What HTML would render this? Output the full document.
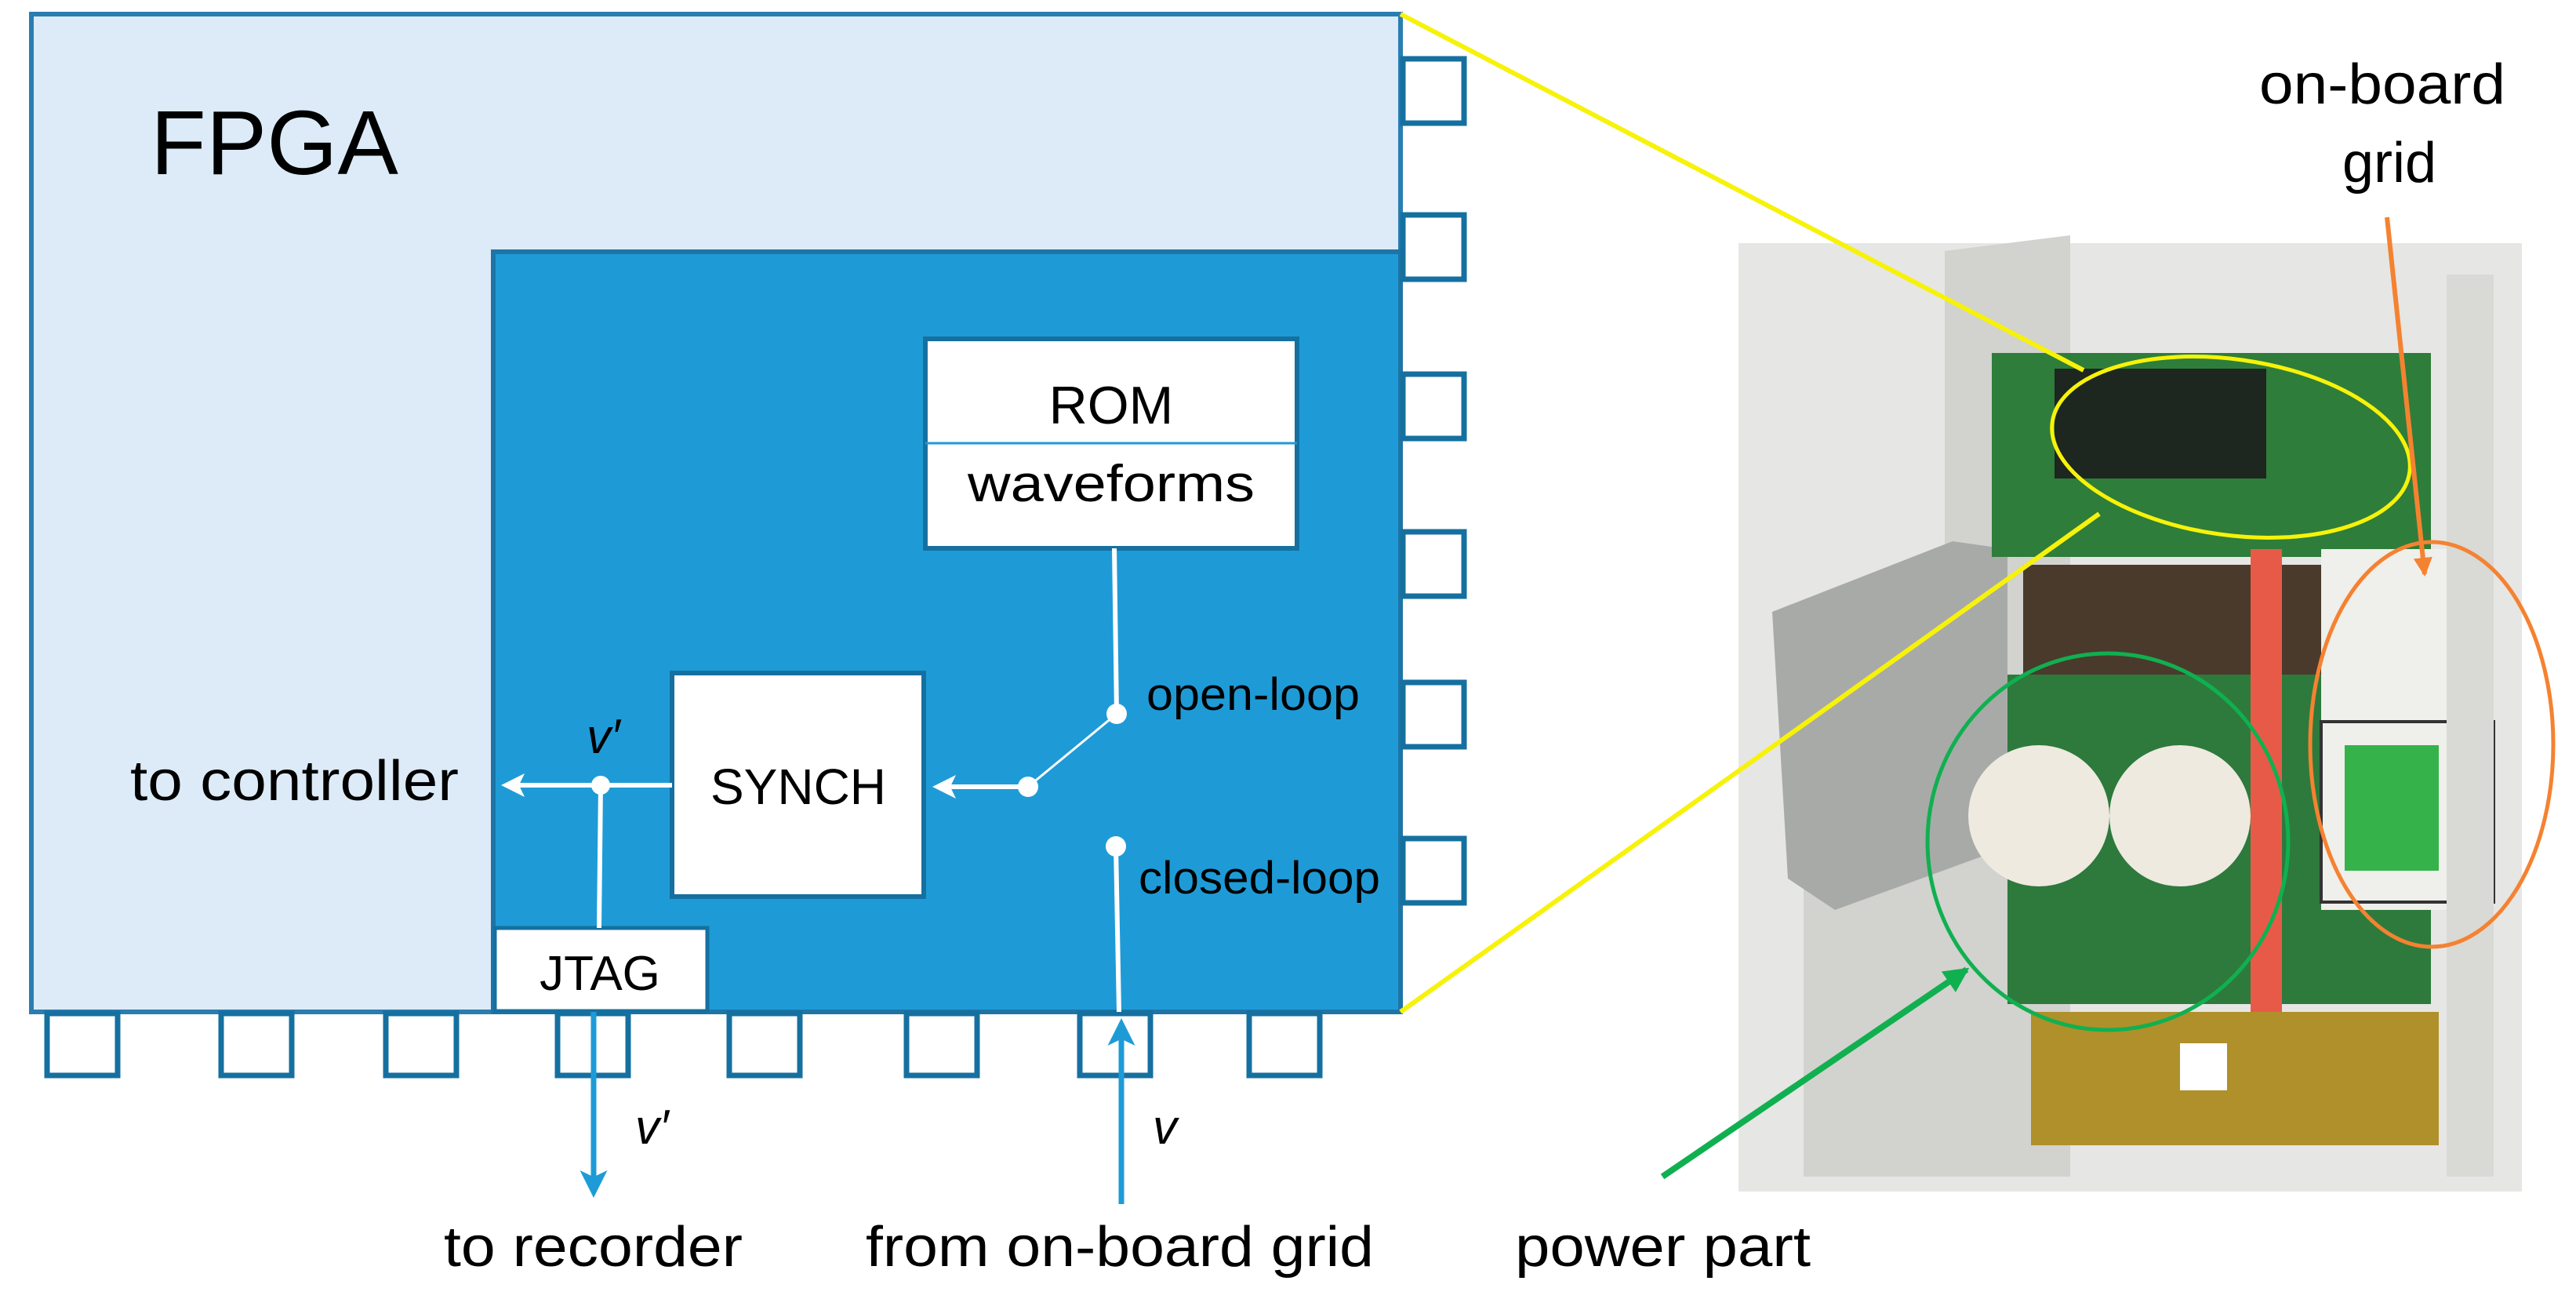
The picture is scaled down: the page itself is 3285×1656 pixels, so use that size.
<!DOCTYPE html>
<html><head><meta charset="utf-8"><style>
html,body{margin:0;padding:0;background:#fff;}
svg{display:block;}
text{font-family:"Liberation Sans",sans-serif;}
</style></head><body>
<svg width="3285" height="1656" viewBox="0 0 3285 1656" xmlns="http://www.w3.org/2000/svg">
<defs>
<marker id="aw" markerWidth="5" markerHeight="5" refX="4" refY="2.5" orient="auto" markerUnits="strokeWidth"><path d="M0,0 L5,2.5 L0,5 L1.2,2.5 Z" fill="#fff"/></marker>
<marker id="ab" markerWidth="5" markerHeight="5" refX="4" refY="2.5" orient="auto" markerUnits="strokeWidth"><path d="M0,0 L5,2.5 L0,5 L1.2,2.5 Z" fill="#1e9bd7"/></marker>
<marker id="ag" markerWidth="4" markerHeight="4" refX="3.5" refY="2" orient="auto" markerUnits="strokeWidth"><path d="M0,0 L4,2 L0,4 Z" fill="#10b050"/></marker>
<marker id="ao" markerWidth="4" markerHeight="4" refX="3.5" refY="2" orient="auto" markerUnits="strokeWidth"><path d="M0,0 L4,2 L0,4 Z" fill="#f58230"/></marker>
</defs>

<rect x="40" y="18" width="1746" height="1272" fill="#dcebf7" stroke="#2a7db0" stroke-width="6"/>
<rect x="629" y="321" width="1157" height="969" fill="#1e9bd7" stroke="#1f74a6" stroke-width="6"/>
<text x="192" y="222" font-size="116" fill="#000">FPGA</text>

<g fill="#fff" stroke="#1570a0" stroke-width="7">
<rect x="1789" y="75" width="78" height="82"/>
<rect x="1789" y="274" width="78" height="82"/>
<rect x="1789" y="477" width="78" height="82"/>
<rect x="1789" y="678" width="78" height="82"/>
<rect x="1789" y="870" width="78" height="82"/>
<rect x="1789" y="1069" width="78" height="82"/>
<rect x="60" y="1292" width="90" height="79"/>
<rect x="282" y="1292" width="90" height="79"/>
<rect x="492" y="1292" width="90" height="79"/>
<rect x="711" y="1292" width="90" height="79"/>
<rect x="930" y="1292" width="90" height="79"/>
<rect x="1156" y="1292" width="90" height="79"/>
<rect x="1377" y="1292" width="90" height="79"/>
<rect x="1593" y="1292" width="90" height="79"/>
</g>

<rect x="1180" y="432" width="474" height="267" fill="#fff" stroke="#1570a0" stroke-width="6"/>
<line x1="1180" y1="565" x2="1654" y2="565" stroke="#1e9bd7" stroke-width="3"/>
<text x="1417" y="540" font-size="68" text-anchor="middle">ROM</text>
<text x="1417" y="639" font-size="66" text-anchor="middle" textLength="366" lengthAdjust="spacingAndGlyphs">waveforms</text>

<rect x="857" y="858" width="321" height="285" fill="#fff" stroke="#1570a0" stroke-width="6"/>
<text x="1018" y="1025" font-size="64" text-anchor="middle">SYNCH</text>

<rect x="631" y="1183" width="271" height="106" fill="#fff" stroke="#1570a0" stroke-width="5"/>
<text x="765" y="1262" font-size="62" text-anchor="middle">JTAG</text>

<g stroke="#fff" stroke-width="6" fill="none">
<line x1="1421" y1="699" x2="1424" y2="910"/>
<line x1="1424" y1="910" x2="1311" y2="1003" stroke-width="3"/>
<line x1="1311" y1="1003" x2="1195" y2="1003" marker-end="url(#aw)"/>
<line x1="1423" y1="1079" x2="1427" y2="1290"/>
<line x1="857" y1="1001" x2="645" y2="1001" marker-end="url(#aw)"/>
<line x1="766" y1="1001" x2="764" y2="1183"/>
</g>
<g fill="#fff">
<circle cx="1424" cy="910" r="13"/>
<circle cx="1311" cy="1003" r="13"/>
<circle cx="1423" cy="1079" r="13"/>
<circle cx="766" cy="1001" r="12"/>
</g>
<text x="1462" y="905" font-size="58" textLength="272" lengthAdjust="spacingAndGlyphs">open-loop</text>
<text x="1452" y="1139" font-size="58" textLength="308" lengthAdjust="spacingAndGlyphs">closed-loop</text>
<text x="748" y="960" font-size="62" font-style="italic">v′</text>
<text x="166" y="1020" font-size="72" textLength="419" lengthAdjust="spacingAndGlyphs">to controller</text>

<line x1="757" y1="1290" x2="757" y2="1520" stroke="#1e9bd7" stroke-width="7" marker-end="url(#ab)"/>
<line x1="1430" y1="1535" x2="1430" y2="1305" stroke="#1e9bd7" stroke-width="7" marker-end="url(#ab)"/>
<text x="810" y="1458" font-size="62" font-style="italic">v′</text>
<text x="1470" y="1458" font-size="62" font-style="italic">v</text>
<text x="566" y="1614" font-size="72" textLength="381" lengthAdjust="spacingAndGlyphs">to recorder</text>
<text x="1104" y="1614" font-size="72" textLength="648" lengthAdjust="spacingAndGlyphs">from on-board grid</text>
<text x="1932" y="1614" font-size="72" textLength="377" lengthAdjust="spacingAndGlyphs">power part</text>
<text x="2881" y="132" font-size="72" textLength="314" lengthAdjust="spacingAndGlyphs">on-board</text>
<text x="3047" y="232" font-size="72" text-anchor="middle">grid</text>

<g>
<rect x="2217" y="310" width="999" height="1209" fill="#e6e6e4"/>
<polygon points="2480,320 2640,300 2640,1500 2300,1500 2300,1050 2480,700" fill="#d2d2ce"/>
<polygon points="2260,780 2490,690 2560,700 2560,1080 2340,1160 2280,1120" fill="#a8aaa8"/>
<rect x="2540" y="450" width="560" height="260" fill="#2e7d3a"/>
<rect x="2620" y="470" width="270" height="140" fill="#1e2620"/>
<rect x="2580" y="720" width="540" height="140" fill="#4a3a2c"/>
<rect x="2560" y="860" width="540" height="420" fill="#2d7a3c"/>
<ellipse cx="2600" cy="1040" rx="90" ry="90" fill="#eeeae0"/>
<ellipse cx="2780" cy="1040" rx="90" ry="90" fill="#eeeae0"/>
<rect x="2870" y="700" width="40" height="620" fill="#e85a48"/>
<rect x="2960" y="700" width="200" height="460" fill="#efefeb"/>
<rect x="2960" y="920" width="220" height="230" fill="none" stroke="#333" stroke-width="4"/>
<rect x="2990" y="950" width="120" height="160" fill="#36b24a"/>
<rect x="2590" y="1290" width="520" height="170" fill="#b0902a"/>
<rect x="2780" y="1330" width="60" height="60" fill="#fff"/>
<rect x="3120" y="350" width="60" height="1150" fill="#d9d9d6"/>
</g>

<line x1="1786" y1="18" x2="2657" y2="472" stroke="#f7f20a" stroke-width="6"/>
<line x1="1786" y1="1290" x2="2677" y2="655" stroke="#f7f20a" stroke-width="6"/>
<ellipse cx="2845" cy="570" rx="230" ry="112" fill="none" stroke="#f7f20a" stroke-width="5" transform="rotate(8 2845 570)"/>
<ellipse cx="2688" cy="1073" rx="230" ry="240" fill="none" stroke="#10b050" stroke-width="5"/>
<ellipse cx="3101" cy="949" rx="155" ry="258" fill="none" stroke="#f58230" stroke-width="5"/>
<line x1="3044" y1="277" x2="3092" y2="732" stroke="#f58230" stroke-width="6" marker-end="url(#ao)"/>
<line x1="2120" y1="1500" x2="2508" y2="1236" stroke="#10b050" stroke-width="8" marker-end="url(#ag)"/>
</svg>
</body></html>
